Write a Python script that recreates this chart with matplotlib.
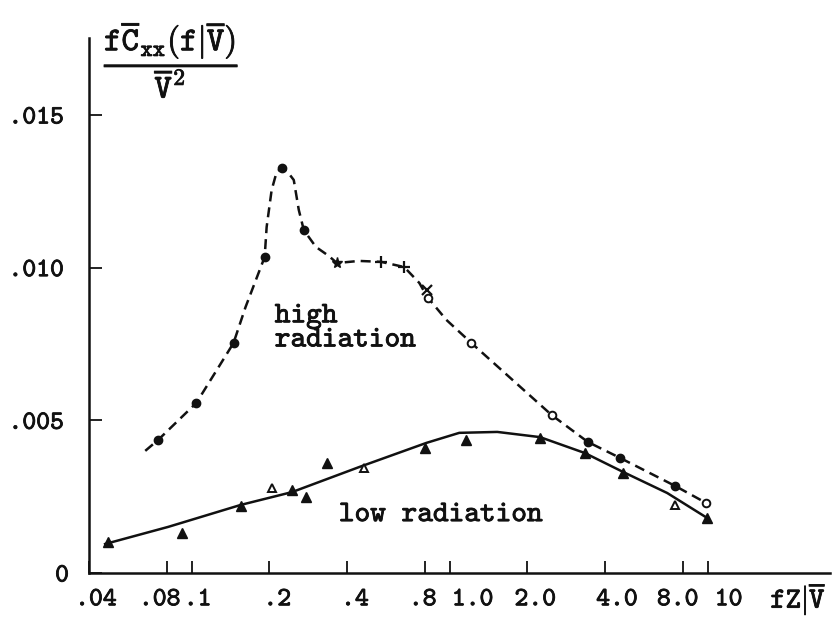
import matplotlib
matplotlib.use("Agg")
import matplotlib.pyplot as plt
import matplotlib.patheffects as pe
from matplotlib.transforms import ScaledTranslation

plt.rcParams['mathtext.fontset'] = 'cm'

# dashed curve (high radiation)
high_curve_x = [0.0661, 0.0742, 0.1043, 0.1453, 0.1618, 0.1818, 0.1919, 0.1953, 0.2042, 0.2135,
                0.2234, 0.2357, 0.2488, 0.2602, 0.2721, 0.3030, 0.3404, 0.3657, 0.4453, 0.5424,
                0.6665, 0.7627, 0.8190, 0.9710, 1.215, 2.488, 3.435, 4.575, 7.486, 9.886]
high_curve_y = [0.00400, 0.00436, 0.00557, 0.00753, 0.00871, 0.00983, 0.01035, 0.01133, 0.01254, 0.01313,
                0.01326, 0.01313, 0.01287, 0.01189, 0.01123, 0.01068, 0.01038, 0.01015, 0.01022, 0.01019,
                0.01002, 0.00950, 0.00904, 0.00829, 0.00753, 0.00517, 0.00429, 0.00377, 0.00285, 0.00229]

# high radiation points
high_dot_x = [0.0742, 0.1043, 0.1453, 0.1919, 0.2234, 0.2721, 3.435, 4.575, 7.486]
high_dot_y = [0.00436, 0.00557, 0.00753, 0.01035, 0.01326, 0.01123, 0.00429, 0.00377, 0.00285]
high_star_x = [0.3657]
high_star_y = [0.01015]
high_plus_x = [0.5424, 0.6665]
high_plus_y = [0.01019, 0.01002]
high_cross_x = [0.8190]
high_cross_y = [0.00927]
high_open_x = [0.826, 1.215, 2.488, 9.886]
high_open_y = [0.00900, 0.00753, 0.00517, 0.00229]

# solid curve (low radiation)
low_curve_x = [0.0462, 0.0811, 0.155, 0.245, 0.446, 0.812, 1.09, 1.53, 2.24, 3.34, 4.70, 6.97, 9.97]
low_curve_y = [0.00095, 0.00151, 0.00223, 0.00265, 0.00347, 0.00426, 0.00459, 0.00462, 0.00445,
               0.00393, 0.00331, 0.00262, 0.00180]

# low radiation points
low_tri_x = [0.0474, 0.092, 0.155, 0.245, 0.277, 0.334, 0.805, 1.16, 2.24, 3.34, 4.70, 9.97]
low_tri_y = [0.00102, 0.00131, 0.00219, 0.00272, 0.00249, 0.00360, 0.00409, 0.00436, 0.00442,
             0.00393, 0.00328, 0.00180]
low_open_x = [0.204, 0.466, 7.48]
low_open_y = [0.00278, 0.00344, 0.00223]

xticks = [0.04, 0.08, 0.1, 0.2, 0.4, 0.8, 1.0, 2.0, 4.0, 8.0, 10]
xtick_labels = ['.04', '.08', '.1', '.2', '.4', '.8', '1.0', '2.0', '4.0', '8.0', '10']
xlabel_shift = [7, -7, 6, 8, 8, -2, 23, 8, 12, -5, 21]   # px, labels sit off the ticks in the scan
yticks = [0, 0.005, 0.010, 0.015]
ytick_labels = ['0', '.005', '.010', '.015']

font = 'cmtt10'
ink = '#111111'
thick = [pe.withStroke(linewidth=0.6, foreground=ink)]

fig = plt.figure(figsize=(8.33, 6.19), dpi=100)
ax = fig.add_axes([0.1068, 0.0743, 0.8896, 0.8643])

ax.plot(high_curve_x, high_curve_y, color=ink, lw=1.8, dashes=(4, 2.4))
ax.plot(low_curve_x, low_curve_y, color=ink, lw=1.8)

ax.plot(high_dot_x, high_dot_y, 'o', color=ink, ms=6)
ax.plot(high_star_x, high_star_y, '*', color=ink, ms=8)
ax.plot(high_plus_x, high_plus_y, '+', color=ink, ms=8, mew=1.6)
ax.plot(high_cross_x, high_cross_y, 'x', color=ink, ms=7, mew=1.6)
ax.plot(high_open_x, high_open_y, 'o', mfc='white', mec=ink, mew=1.4, ms=5.5)

ax.plot(low_tri_x, low_tri_y, '^', color=ink, ms=6.5)
ax.plot(low_open_x, low_open_y, '^', mfc='white', mec=ink, mew=1.4, ms=6)

ax.text(0.210, 0.00880, 'high\nradiation', fontfamily=font, fontsize=21.5, color=ink,
        va='top', ha='left', linespacing=0.95, path_effects=thick)
ax.text(0.372, 0.0017, 'low radiation', fontfamily=font, fontsize=21.5, color=ink,
        va='baseline', ha='left', path_effects=thick)

ax.set_xscale('log')
ax.set_xlim(0.04, 29.8)
ax.set_ylim(0, 0.01752)
ax.minorticks_off()
ax.set_xticks(xticks)
ax.set_xticklabels(xtick_labels)
ax.set_yticks(yticks)
ax.set_yticklabels(ytick_labels)

ax.tick_params(axis='x', direction='in', length=9, width=1.3, color=ink, pad=11)
ax.tick_params(axis='y', direction='in', length=9, width=1.3, color=ink, pad=18)
for lab in ax.get_xticklabels() + ax.get_yticklabels():
    lab.set_fontfamily(font)
    lab.set_fontsize(19)
    lab.set_color(ink)
    lab.set_path_effects(thick)

# nudge labels sideways like the typed originals (after tick_params, which resets transforms)
for lab, dx in zip(ax.get_xticklabels(), xlabel_shift):
    lab.set_transform(lab.get_transform() + ScaledTranslation(dx / 100, 0, fig.dpi_scale_trans))
ylab0 = ax.get_yticklabels()[0]
ylab0.set_transform(ylab0.get_transform() + ScaledTranslation(0.05, 0, fig.dpi_scale_trans))

for side in ['top', 'right']:
    ax.spines[side].set_visible(False)
for side in ['left', 'bottom']:
    ax.spines[side].set_linewidth(1.8)
    ax.spines[side].set_color(ink)

fig.text(0.206, 0.905,
         r'$\dfrac{\mathtt{f}\overline{\mathtt{C}}_{\mathtt{xx}}\mathtt{(f}|\overline{\mathtt{V}}\mathtt{)}}'
         r'{\overline{\mathtt{V}}^{\mathtt{2}}}$',
         fontsize=24, color=ink, ha='center', va='center', path_effects=thick)
fig.text(0.992, 0.033, r'$\mathtt{fZ}|\overline{\mathtt{V}}$', fontsize=21, color=ink,
         ha='right', va='center', path_effects=thick)

fig.savefig('out.png', dpi=100)
